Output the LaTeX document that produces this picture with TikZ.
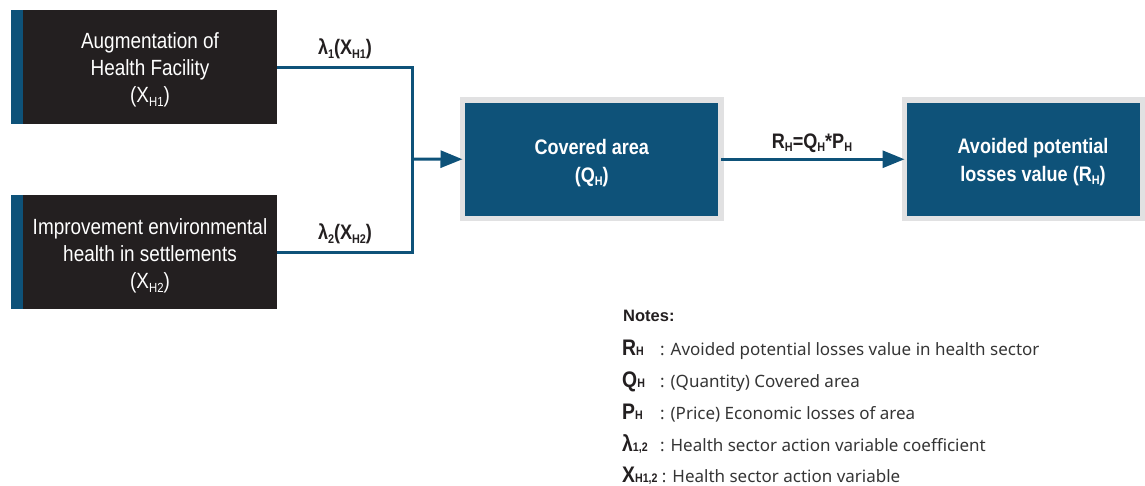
\documentclass[tikz,border=0pt]{standalone}
\usepackage{fontspec}
\usepackage{graphicx}
\usetikzlibrary{arrows.meta}
\newfontfamily\condfont[FakeStretch=0.86]{Liberation Sans}
\newfontfamily\notefont{Noto Sans}
\newfontfamily\headfont{Liberation Sans}
\definecolor{hblue}{HTML}{0E5279}
\definecolor{hdark}{HTML}{231F20}
\definecolor{hgray}{HTML}{E1E1E2}
\definecolor{htext}{HTML}{353535}
% small lowered index used in variable names
\newcommand\lo[1]{\raisebox{-0.3ex}{\scalebox{0.6}{#1}}}
% small index sitting on the baseline
\newcommand\ix[1]{\scalebox{0.55}{#1}}
\tikzset{
  actionbox/.style={fill=hdark, minimum width=254pt, minimum height=114pt,
    inner sep=0pt, outer sep=0pt},
  actiontext/.style={text=white, inner sep=0pt, align=center,
    font=\condfont\fontsize{22}{27}\selectfont},
  resultbox/.style={fill=hblue, draw=hgray, line width=5.5pt,
    minimum height=118.5pt, inner sep=0pt, outer sep=0pt},
  resulttext/.style={text=white, inner sep=0pt, align=center,
    font=\condfont\bfseries\fontsize{21}{28}\selectfont},
  conn/.style={draw=hblue, line width=3pt, line join=miter},
  flow/.style={conn, -{Triangle[length=22pt,width=17pt]}},
  edgelabel/.style={text=hdark, inner sep=0pt, font=\condfont\bfseries\fontsize{21}{21}\selectfont},
  notehead/.style={text=hdark, inner sep=0pt, anchor=base west, font=\headfont\bfseries\fontsize{16.5}{18}\selectfont},
  notesym/.style={text=hdark, inner sep=0pt, anchor=base west, font=\condfont\bfseries\fontsize{22.5}{22}\selectfont},
  notetext/.style={text=htext, inner sep=0pt, anchor=base west, font=\notefont\fontsize{17}{18}\selectfont},
}
\begin{document}
\begin{tikzpicture}[x=1pt, y=-1pt]
\useasboundingbox (0,0) rectangle (1145,485);

% action variables (dark boxes with a blue edge stripe)
\node[actionbox] (act1) at (150,67) {};
\node[actionbox] (act2) at (150,252) {};
\fill[hblue] ([xshift=-12pt]act1.north west) rectangle (act1.south west);
\fill[hblue] ([xshift=-12pt]act2.north west) rectangle (act2.south west);
\node[actiontext] (act1text) at (150,70) {Augmentation of\\Health Facility\\(X\lo{H1})};
\node[actiontext] (act2text) at (150,256) {Improvement environmental\\health in settlements\\(X\lo{H2})};

% result boxes
\node[resultbox, minimum width=258.5pt] (cov) at (591.75,159.25) {};
\node[resultbox, minimum width=238pt] (loss) at (1023.5,159.25) {};
\node[resulttext] (covtext) at (591.75,163) {Covered area\\(Q\lo{H})};
\node[resulttext] (losstext) at (1033,162) {Avoided potential\\losses value (R\lo{H})};

% joining connector
\coordinate (top) at (412,67);
\coordinate (bot) at (412,252);
\coordinate (join) at (412,159);
\draw[conn] (act1.east) -- (top) -- (bot) -- (act2.east);
\draw[flow] (join) -- (cov.west);
\draw[flow] (cov.east) -- (loss.west);

% connector labels
\node[edgelabel] (l1) at (345,49) {λ\lo{1}(X\lo{H1})};
\node[edgelabel] (l2) at (345,234) {λ\lo{2}(X\lo{H2})};
\node[edgelabel] (l3) at (812,143) {R\lo{H}=Q\lo{H}*P\lo{H}};

% notes
\node[notehead] (nh) at (623,321) {Notes:};
\node[notesym] (s1) at (622,355) {R\ix{H}};
\node[notesym] (s2) at (622,387) {Q\ix{H}};
\node[notesym] (s3) at (622,419) {P\ix{H}};
\node[notesym] (s4) at (622,451) {λ\ix{1,2}};
\node[notesym] (s5) at (622,482) {X\ix{H1,2}};
\node[notetext] (t1) at (660,355) {: Avoided potential losses value in health sector};
\node[notetext] (t2) at (660,387) {: (Quantity) Covered area};
\node[notetext] (t3) at (660,419) {: (Price) Economic losses of area};
\node[notetext] (t4) at (660,451) {: Health sector action variable coefficient};
\node[notetext] (t5) at ([xshift=4pt]s5.base east) {: Health sector action variable};
\end{tikzpicture}
\end{document}
